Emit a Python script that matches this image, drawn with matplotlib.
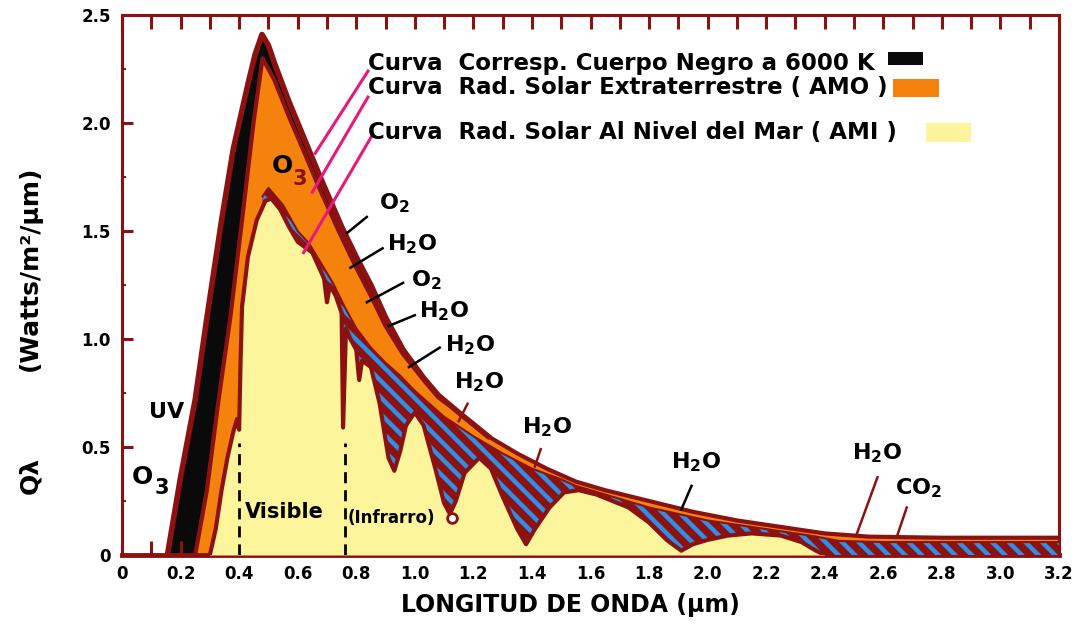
import numpy as np
import matplotlib
matplotlib.use("Agg")
import matplotlib.pyplot as plt
from matplotlib.patches import Rectangle

# --- datos (longitud de onda um, Q lambda) ---
# curva cuerpo negro 6000 K
bb_x = [0.155, 0.20, 0.25, 0.29, 0.34, 0.38, 0.43, 0.455, 0.478, 0.50, 0.52, 0.57, 0.64,
        0.68, 0.75, 0.80, 0.85, 0.90, 0.96, 1.03, 1.08, 1.15, 1.25]
bb_y = [0.0, 0.36, 0.72, 1.10, 1.55, 1.88, 2.18, 2.32, 2.41, 2.36, 2.28, 2.10, 1.87,
        1.74, 1.52, 1.38, 1.25, 1.10, 0.95, 0.82, 0.74, 0.66, 0.55]

# radiacion solar extraterrestre (AM0)
am0_x = [0.25, 0.29, 0.33, 0.37, 0.41, 0.45, 0.48, 0.52, 0.57, 0.63, 0.67, 0.74, 0.80,
         0.85, 0.90, 0.96, 1.03, 1.08, 1.15, 1.25, 1.35, 1.45, 1.55, 1.65, 1.80, 1.95,
         2.10, 2.25, 2.40, 2.55, 2.80, 3.20]
am0_y = [0.0, 0.30, 0.72, 1.10, 1.55, 2.01, 2.30, 2.20, 2.03, 1.84, 1.71, 1.50, 1.33,
         1.20, 1.06, 0.93, 0.81, 0.73, 0.66, 0.55, 0.47, 0.40, 0.34, 0.30, 0.25, 0.20,
         0.16, 0.13, 0.10, 0.085, 0.08, 0.08]

# envolvente AM1 sin absorcion (borde superior de la zona rayada)
env_x = [0.48, 0.50, 0.55, 0.60, 0.64, 0.68, 0.72, 0.76, 0.80, 0.85, 0.90, 0.95, 1.00,
         1.05, 1.10, 1.20, 1.30, 1.40, 1.50, 1.55, 1.70, 1.80, 1.90, 2.00, 2.20, 2.35,
         2.45, 2.60, 3.20]
env_y = [1.66, 1.70, 1.62, 1.50, 1.44, 1.35, 1.26, 1.15, 1.05, 0.96, 0.89, 0.83, 0.76,
         0.70, 0.64, 0.55, 0.47, 0.40, 0.35, 0.32, 0.26, 0.22, 0.19, 0.16, 0.12, 0.09,
         0.065, 0.06, 0.06]

# radiacion solar al nivel del mar (AM1)
am1_x = [0.30, 0.32, 0.34, 0.36, 0.38, 0.393, 0.40, 0.405, 0.41, 0.43, 0.46, 0.49, 0.51,
         0.54, 0.57, 0.60, 0.63, 0.65, 0.67, 0.69, 0.70, 0.71, 0.73, 0.75, 0.755, 0.765,
         0.78, 0.80, 0.81, 0.82, 0.85, 0.88, 0.91, 0.93, 0.95, 0.97, 1.00, 1.03, 1.07,
         1.10, 1.12, 1.14, 1.17, 1.22, 1.26, 1.30, 1.35, 1.38, 1.41, 1.46, 1.51, 1.56,
         1.62, 1.73, 1.80, 1.86, 1.91, 1.95, 2.00, 2.07, 2.15, 2.25, 2.32, 2.37, 2.40]
am1_y = [0.0, 0.12, 0.30, 0.45, 0.57, 0.63, 0.58, 0.90, 1.15, 1.38, 1.55, 1.64, 1.65,
         1.60, 1.52, 1.45, 1.42, 1.40, 1.34, 1.28, 1.17, 1.25, 1.20, 1.12, 0.59, 1.05,
         1.00, 0.95, 0.81, 0.90, 0.87, 0.70, 0.45, 0.39, 0.48, 0.60, 0.66, 0.60, 0.40,
         0.24, 0.19, 0.25, 0.38, 0.45, 0.40, 0.27, 0.12, 0.05, 0.12, 0.22, 0.29, 0.30,
         0.28, 0.22, 0.15, 0.07, 0.02, 0.05, 0.07, 0.09, 0.10, 0.09, 0.06, 0.02, 0.0]

xticks = [0, 0.2, 0.4, 0.6, 0.8, 1.0, 1.2, 1.4, 1.6, 1.8, 2.0, 2.2, 2.4, 2.6, 2.8, 3.0, 3.2]
xtick_labels = ["0", "0.2", "0.4", "0.6", "0.8", "1.0", "1.2", "1.4", "1.6", "1.8",
                "2.0", "2.2", "2.4", "2.6", "2.8", "3.0", "3.2"]
yticks = [0, 0.5, 1.0, 1.5, 2.0, 2.5]
ytick_labels = ["0", "0.5", "1.0", "1.5", "2.0", "2.5"]

legend_labels = ["Curva  Corresp. Cuerpo Negro a 6000 K",
                 "Curva  Rad. Solar Extraterrestre ( AMO )",
                 "Curva  Rad. Solar Al Nivel del Mar ( AMI )"]

# etiquetas de absorcion: (texto, x, y, linea x0, y0, x1, y1, color linea)
absorb = [
    ("O$_2$", 0.93, 1.63, 0.836, 1.565, 0.768, 1.49, "black"),
    ("H$_2$O", 0.99, 1.44, 0.89, 1.42, 0.78, 1.33, "black"),
    ("O$_2$", 1.04, 1.27, 0.96, 1.26, 0.836, 1.17, "black"),
    ("H$_2$O", 1.10, 1.13, 1.00, 1.11, 0.91, 1.06, "black"),
    ("H$_2$O", 1.19, 0.97, 1.085, 0.96, 0.98, 0.87, "black"),
    ("H$_2$O", 1.22, 0.80, 1.18, 0.70, 1.15, 0.62, "darkred"),
    ("H$_2$O", 1.45, 0.59, 1.43, 0.49, 1.41, 0.41, "darkred"),
    ("H$_2$O", 1.96, 0.43, 1.945, 0.32, 1.91, 0.21, "black"),
    ("H$_2$O", 2.58, 0.47, 2.58, 0.36, 2.51, 0.10, "darkred"),
    ("CO$_2$", 2.72, 0.31, 2.68, 0.22, 2.645, 0.08, "darkred"),
]

DARKRED = "#8c1212"
ORANGE = "#f5820c"
YELLOW = "#fdf59c"
BLUE = "#2e8fe6"
MAGENTA = "#e8187c"

plt.rcParams["font.family"] = "DejaVu Sans"
plt.rcParams["font.weight"] = "bold"
plt.rcParams["mathtext.default"] = "bf"
plt.rcParams["hatch.linewidth"] = 3.2

fig = plt.figure(figsize=(10.77, 6.28), dpi=100)
ax = fig.add_axes([122 / 1077, 1 - 555 / 628, 937 / 1077, 540 / 628])

# rellenos por capas
ax.fill_between(bb_x, bb_y, 0, color="#0a0a0a", lw=0, zorder=1)
ax.fill_between(am0_x, am0_y, 0, color=ORANGE, lw=0, zorder=2)
ax.fill_between(env_x, env_y, 0, facecolor=DARKRED, edgecolor=BLUE, hatch="\\\\",
                lw=0, zorder=3)
ax.fill_between(am1_x, am1_y, 0, color=YELLOW, lw=0, zorder=4)

# contornos
ax.plot(bb_x, bb_y, color=DARKRED, lw=4, zorder=5, solid_joinstyle="round")
ax.plot(am0_x, am0_y, color=DARKRED, lw=3, zorder=5, solid_joinstyle="round")
ax.plot(env_x, env_y, color=DARKRED, lw=1.5, zorder=5)
ax.plot(am1_x, am1_y, color=DARKRED, lw=3, zorder=5, solid_joinstyle="round")

# limites visible / infrarrojo
ax.plot([0.40, 0.40], [0, 0.52], color="black", lw=2, ls=(0, (4, 2.5)), zorder=6)
ax.plot([0.76, 0.76], [0, 0.52], color="black", lw=2, ls=(0, (4, 2.5)), zorder=6)
ax.text(0.556, 0.20, "Visible", fontsize=15, ha="center", va="center", zorder=7)
ax.text(0.92, 0.17, "(Infrarro)", fontsize=12, ha="center", va="center", zorder=7)
ax.plot([1.126], [0.17], "o", ms=7, mfc="white", mec=DARKRED, mew=2, zorder=7)

# textos UV, O3
ax.text(0.154, 0.66, "UV", fontsize=16, ha="center", va="center")
ax.text(0.068, 0.36, "O", fontsize=18, ha="center", va="center")
ax.text(0.137, 0.31, "3", fontsize=15, ha="center", va="center")
ax.text(0.546, 1.80, "O", fontsize=18, ha="center", va="center", zorder=7)
ax.text(0.607, 1.74, "3", fontsize=15, ha="center", va="center", color=DARKRED, zorder=7)

for txt, tx, ty, x0, y0, x1, y1, c in absorb:
    lc = DARKRED if c == "darkred" else "black"
    ax.plot([x0, x1], [y0, y1], color=lc, lw=1.8, zorder=6)
    ax.text(tx, ty, txt, fontsize=16, ha="center", va="center", zorder=7)

# lineas magenta de la leyenda
ax.plot([0.84, 0.66], [2.24, 1.86], color=MAGENTA, lw=2.2, zorder=8)
ax.plot([0.84, 0.65], [2.12, 1.68], color=MAGENTA, lw=2.2, zorder=8)
ax.plot([0.853, 0.62], [1.94, 1.40], color=MAGENTA, lw=2.2, zorder=8)

# leyenda manual
leg_y = [0.911, 0.865, 0.783]
leg_colors = ["#0a0a0a", ORANGE, YELLOW]
leg_boxes = [(0.8175, 0.907, 0.0374, 0.024), (0.823, 0.848, 0.049, 0.033),
             (0.858, 0.765, 0.048, 0.035)]
for lab, ly, col, (bx, by, bw, bh) in zip(legend_labels, leg_y, leg_colors, leg_boxes):
    ax.text(0.2625, ly, lab, fontsize=16.5, ha="left", va="center",
            transform=ax.transAxes, zorder=8)
    ax.add_patch(Rectangle((bx, by), bw, bh, transform=ax.transAxes,
                           facecolor=col, edgecolor="none", zorder=8))

ax.set_xlim(0, 3.2)
ax.set_ylim(0, 2.5)
ax.set_xticks(xticks)
ax.set_xticklabels(xtick_labels, fontsize=12, fontweight="bold")
ax.set_xticks(np.arange(0.1, 3.2, 0.2), minor=True)
ax.set_yticks(yticks)
ax.set_yticklabels(ytick_labels, fontsize=12, fontweight="bold")
ax.set_yticks([0.25, 0.75, 1.25, 1.75, 2.25], minor=True)

ax.tick_params(axis="x", which="both", direction="in", length=10, width=2.2,
               color=DARKRED, top=True, pad=7)
ax.tick_params(axis="y", which="major", direction="in", length=8, width=2.2,
               color=DARKRED, pad=8)
ax.tick_params(axis="y", which="minor", direction="in", length=3, width=1.5,
               color=DARKRED)
for sp in ax.spines.values():
    sp.set_color(DARKRED)
    sp.set_linewidth(2.2)
ax.spines["bottom"].set_linewidth(3.5)

fig.text(570 / 1077, 1 - 605 / 628, "LONGITUD DE ONDA (µm)", fontsize=17,
         ha="center", va="center")
fig.text(30 / 1077, 1 - 268 / 628, "(Watts/m²/µm)", fontsize=18, rotation=90,
         ha="center", va="center")
fig.text(30 / 1077, 1 - 475 / 628, "Qλ", fontsize=18, rotation=90,
         ha="center", va="center")

fig.savefig("out.png", dpi=100)
